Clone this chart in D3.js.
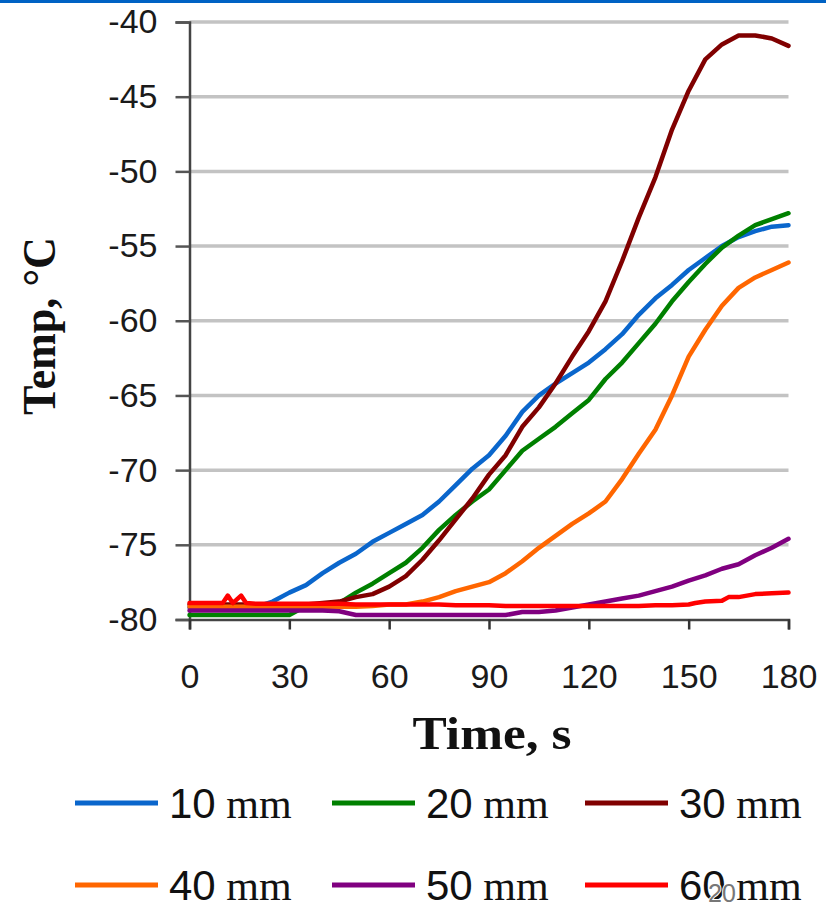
<!DOCTYPE html>
<html>
<head>
<meta charset="utf-8">
<script src="https://cdn.jsdelivr.net/npm/d3@7"></script>
<style>
  html, body { margin: 0; padding: 0; background: #fff; }
  svg { display: block; }
</style>
</head>
<body>
<svg id="chart" width="826" height="905"></svg>
<script>
// Time axis (s), sampled every 5 s
const seconds = [0,5,10,15,20,25,30,35,40,45,50,55,60,65,70,75,80,85,90,95,100,105,110,115,120,125,130,135,140,145,150,155,160,165,170,175,180];

// Temperature (°C) at each depth
const temp10 = [-79.2,-79.2,-79.2,-79.2,-79.15,-78.8,-78.2,-77.7,-76.9,-76.2,-75.6,-74.8,-74.2,-73.6,-73.0,-72.1,-71.0,-69.9,-69.0,-67.7,-66.1,-65.0,-64.2,-63.5,-62.8,-61.9,-60.9,-59.6,-58.5,-57.6,-56.6,-55.8,-55.0,-54.4,-54.0,-53.7,-53.6];
const temp20 = [-79.7,-79.7,-79.7,-79.7,-79.7,-79.7,-79.7,-79.1,-79.0,-78.9,-78.2,-77.6,-76.9,-76.2,-75.2,-74.0,-73.0,-72.1,-71.3,-70.0,-68.7,-67.9,-67.1,-66.2,-65.3,-63.9,-62.8,-61.5,-60.2,-58.7,-57.4,-56.2,-55.1,-54.3,-53.6,-53.2,-52.8];
const temp30 = [-79.0,-79.0,-79.0,-79.0,-79.0,-79.0,-79.0,-79.0,-78.9,-78.8,-78.5,-78.3,-77.8,-77.1,-76.0,-74.7,-73.3,-71.9,-70.3,-69.0,-67.1,-65.8,-64.2,-62.4,-60.7,-58.7,-56.0,-53.1,-50.4,-47.2,-44.6,-42.5,-41.5,-40.9,-40.9,-41.1,-41.6];
const temp40 = [-79.15,-79.15,-79.15,-79.15,-79.15,-79.15,-79.15,-79.15,-79.15,-79.15,-79.15,-79.1,-79.0,-79.0,-78.8,-78.5,-78.1,-77.8,-77.5,-76.9,-76.1,-75.2,-74.4,-73.6,-72.9,-72.1,-70.6,-68.9,-67.3,-65.0,-62.4,-60.6,-59.0,-57.8,-57.1,-56.6,-56.1];
const temp50 = [-79.4,-79.4,-79.4,-79.4,-79.4,-79.4,-79.4,-79.4,-79.4,-79.45,-79.7,-79.7,-79.7,-79.7,-79.7,-79.7,-79.7,-79.7,-79.7,-79.7,-79.5,-79.5,-79.4,-79.2,-79.0,-78.8,-78.6,-78.4,-78.1,-77.8,-77.4,-77.05,-76.6,-76.3,-75.7,-75.2,-74.6];

// The 60 mm probe has two short spikes early on, so it keeps its own time base
const seconds60 = [0,5,10,11.5,13,15.5,17,20,25,30,35,40,45,50,55,60,65,70,75,80,85,90,95,100,105,110,115,120,125,130,135,140,145,150,152,155,160,162,165,170,175,180];
const temp60 = [-78.9,-78.9,-78.9,-78.4,-78.9,-78.4,-78.9,-78.95,-78.95,-78.95,-78.95,-78.95,-78.95,-79.0,-79.0,-79.0,-79.0,-79.0,-79.0,-79.05,-79.05,-79.05,-79.1,-79.1,-79.1,-79.1,-79.1,-79.1,-79.1,-79.1,-79.1,-79.05,-79.05,-79.0,-78.9,-78.8,-78.75,-78.5,-78.5,-78.3,-78.25,-78.2];

const seriesNames = ["10", "20", "30", "40", "50", "60"];
const seriesColors = ["#0a66cc", "#008000", "#800000", "#ff6600", "#800080", "#ff0000"];

const xTicks = [0, 30, 60, 90, 120, 150, 180];
const yTicks = [-80, -75, -70, -65, -60, -55, -50, -45, -40];

const series = [
  { name: seriesNames[0], color: seriesColors[0], t: seconds,   v: temp10 },
  { name: seriesNames[1], color: seriesColors[1], t: seconds,   v: temp20 },
  { name: seriesNames[2], color: seriesColors[2], t: seconds,   v: temp30 },
  { name: seriesNames[3], color: seriesColors[3], t: seconds,   v: temp40 },
  { name: seriesNames[4], color: seriesColors[4], t: seconds,   v: temp50 },
  { name: seriesNames[5], color: seriesColors[5], t: seconds60, v: temp60 }
];

const svg = d3.select("#chart");
const sans = "'Liberation Sans', Arial, sans-serif";
const serif = "'Liberation Serif', 'Times New Roman', serif";
const plainNumber = d => String(d);   // keeps an ASCII hyphen for negatives

// Blue rule along the top edge
svg.append("rect").attr("x", 0).attr("y", 0).attr("width", 826).attr("height", 3).attr("fill", "#0062c4");

const x = d3.scaleLinear().domain([0, 180]).range([189.5, 788.5]);
const y = d3.scaleLinear().domain([-80, -40]).range([619.5, 22]);

// Horizontal gridlines
svg.append("g")
  .selectAll("line")
  .data(yTicks.filter(d => d !== -80))
  .join("line")
  .attr("x1", x(0)).attr("x2", x(180))
  .attr("y1", d => y(d)).attr("y2", d => y(d))
  .attr("stroke", "#c3c3c3")
  .attr("stroke-width", 3.5);

// Y axis
const yAxis = svg.append("g")
  .attr("transform", `translate(${x(0)},0)`)
  .call(d3.axisLeft(y).tickValues(yTicks).tickSize(14).tickPadding(18).tickFormat(plainNumber));
yAxis.select(".domain").attr("stroke", "#444").attr("stroke-width", 2.5);
yAxis.selectAll(".tick line").attr("stroke", "#555").attr("stroke-width", 2.5);
yAxis.selectAll(".tick text")
  .attr("font-family", sans).attr("font-size", 34).attr("fill", "#1a1a1a");

// X axis
const xAxis = svg.append("g")
  .attr("transform", `translate(0,${y(-80)})`)
  .call(d3.axisBottom(x).tickValues(xTicks).tickSize(10).tickPadding(34).tickFormat(plainNumber));
xAxis.select(".domain").attr("stroke", "#444").attr("stroke-width", 2.5);
xAxis.selectAll(".tick line").attr("stroke", "#333").attr("stroke-width", 2.5);
xAxis.selectAll(".tick text")
  .attr("font-family", sans).attr("font-size", 34).attr("fill", "#1a1a1a");

// Temperature curves
const line = d3.line()
  .x(d => x(d[0]))
  .y(d => y(d[1]));

svg.append("g")
  .selectAll("path")
  .data(series)
  .join("path")
  .attr("d", s => line(s.t.map((t, i) => [t, s.v[i]])))
  .attr("fill", "none")
  .attr("stroke", s => s.color)
  .attr("stroke-width", 4.5)
  .attr("stroke-linejoin", "round")
  .attr("stroke-linecap", "round");

// Axis titles
svg.append("text")
  .attr("transform", "translate(55,326) rotate(-90)")
  .attr("text-anchor", "middle")
  .attr("font-family", serif).attr("font-weight", "bold").attr("font-size", 46)
  .attr("textLength", 178).attr("lengthAdjust", "spacingAndGlyphs")
  .attr("fill", "#111")
  .text("Temp, °C");

svg.append("text")
  .attr("x", 492).attr("y", 749)
  .attr("text-anchor", "middle")
  .attr("font-family", serif).attr("font-weight", "bold").attr("font-size", 46)
  .attr("textLength", 159).attr("lengthAdjust", "spacingAndGlyphs")
  .attr("fill", "#111")
  .text("Time, s");

// Legend: three columns, two rows
const legendCols = [75, 332, 585];
const legendRows = [803, 885];
const legend = svg.append("g")
  .selectAll("g")
  .data(series)
  .join("g")
  .attr("transform", (s, i) => `translate(${legendCols[i % 3]},${legendRows[Math.floor(i / 3)]})`);

legend.append("line")
  .attr("x1", 0).attr("x2", 83)
  .attr("y1", 0).attr("y2", 0)
  .attr("stroke", s => s.color)
  .attr("stroke-width", 5);

const legendText = legend.append("text")
  .attr("x", 94).attr("y", 15)
  .attr("fill", "#111");
legendText.append("tspan")
  .attr("font-family", sans).attr("font-size", 42)
  .text(s => s.name);
legendText.append("tspan")
  .attr("font-family", serif).attr("font-size", 42)
  .text(" mm");

// Page number
svg.append("text")
  .attr("x", 708).attr("y", 902)
  .attr("font-family", sans).attr("font-size", 25)
  .attr("fill", "#777")
  .attr("stroke", "#fff").attr("stroke-width", 2).attr("paint-order", "stroke")
  .text("20");
</script>
</body>
</html>
